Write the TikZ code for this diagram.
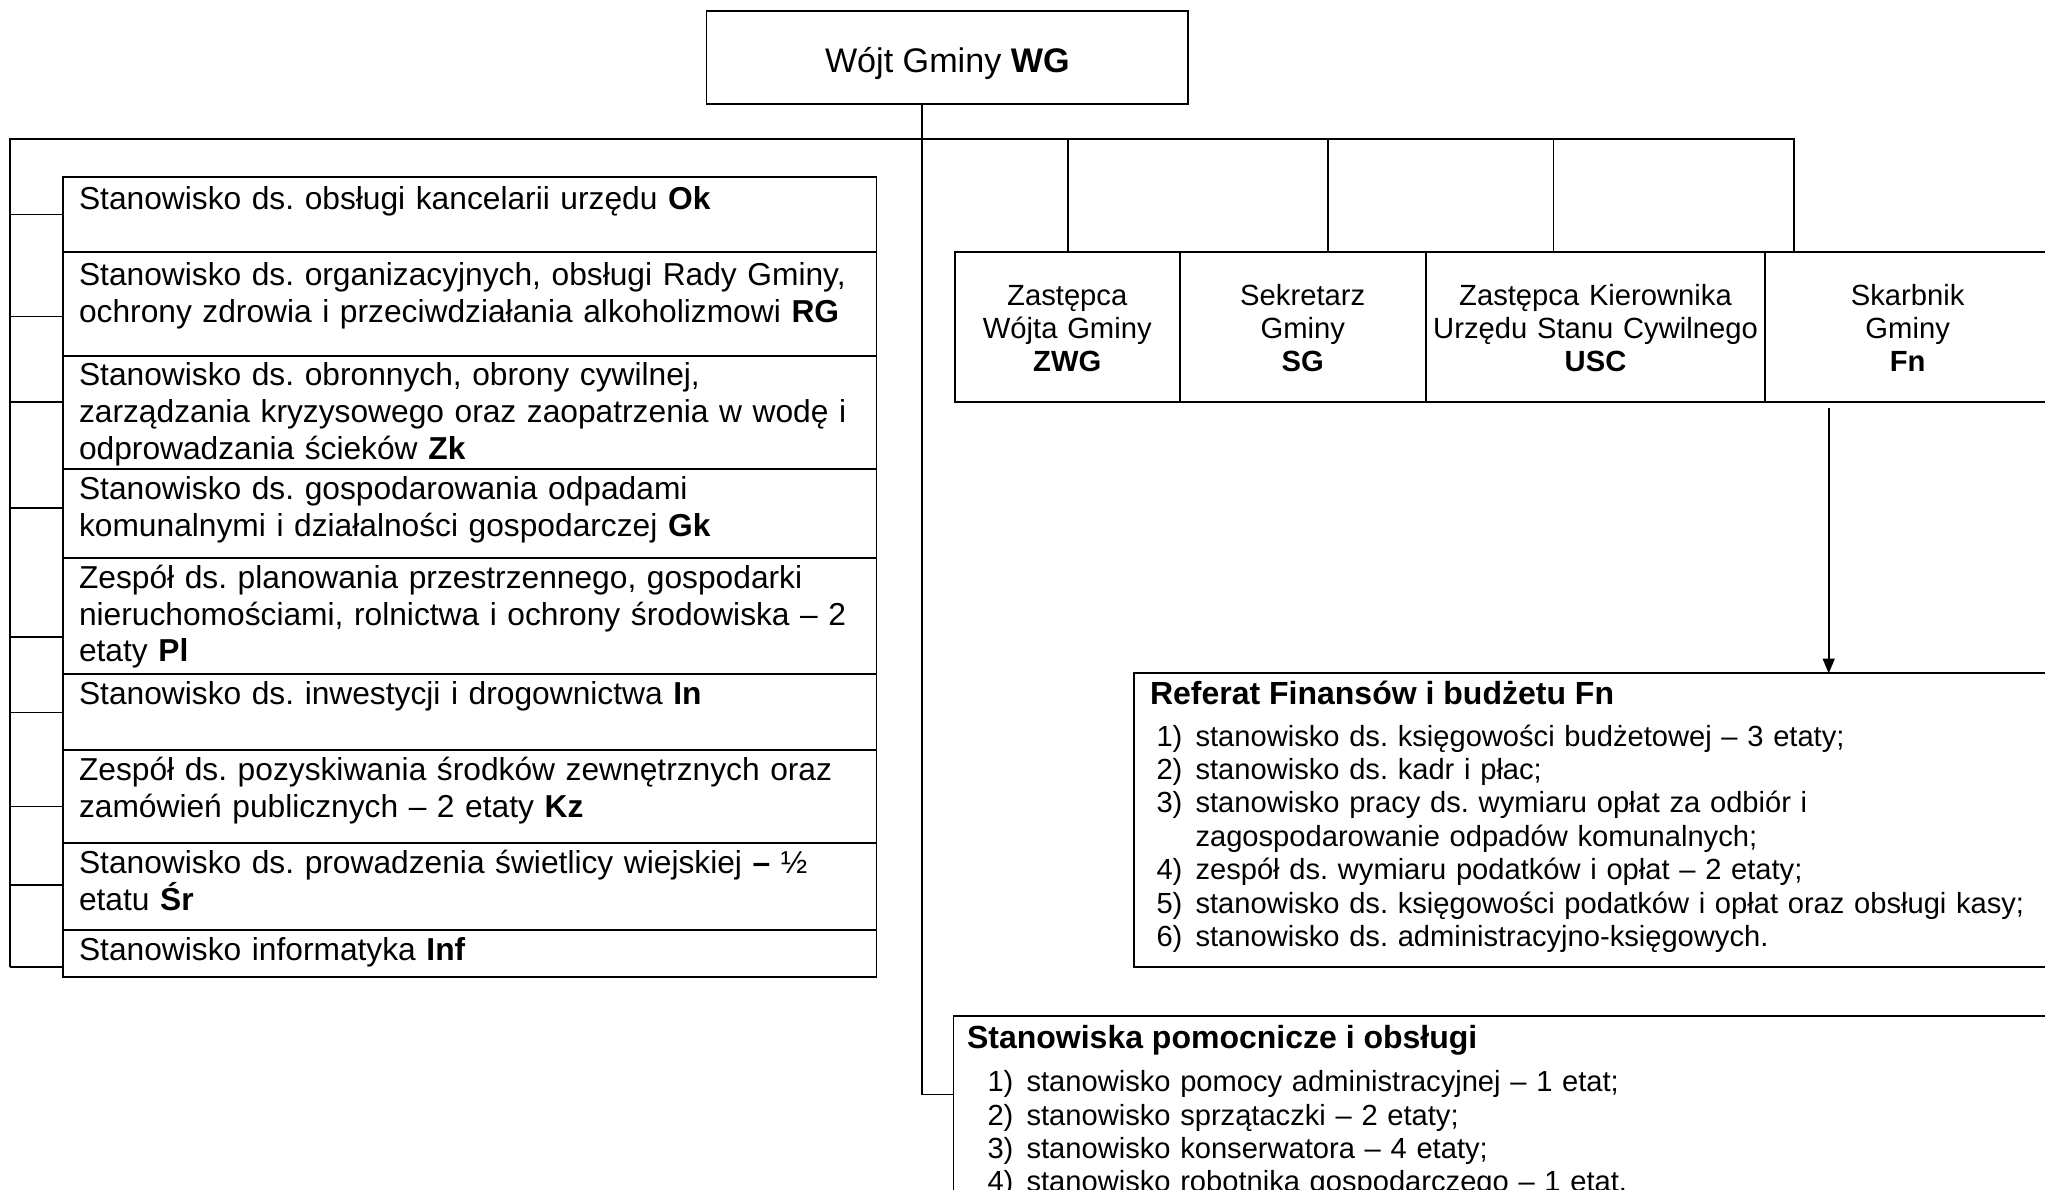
\documentclass[tikz,border=0pt]{standalone}
\usepackage{fontspec}
\setmainfont{Liberation Sans}
\usetikzlibrary{arrows.meta,calc}
\setlength{\lineskiplimit}{-100pt}
\frenchspacing
\newcommand{\pxlen}[1]{#1*0.375pt}
\newlength{\numw}
\setlength{\numw}{14.625pt}
\tikzset{
  box/.style={draw, line width=0.65pt, inner sep=0pt, outer sep=0pt, anchor=north west},
  conn/.style={line width=0.6pt},
  bus/.style={line width=0.8pt},
  listtext/.style={anchor=base west, inner sep=0pt, text width=322.5pt, align=left,
    font=\fontsize{11.9}{13.8}\selectfont},
  rowtext/.style={anchor=base, inner sep=0pt, text width=127.5pt, align=center,
    font=\fontsize{10.95}{12.56}\selectfont},
  headtext/.style={anchor=base west, inner sep=0pt, font=\fontsize{12}{13.8}\selectfont\bfseries},
  itemtext/.style={anchor=base west, inner sep=0pt, text width=337.5pt, align=left,
    font=\fontsize{10.92}{12.53}\selectfont},
}
\newcommand{\num}[1]{\makebox[\numw][l]{#1}}
\begin{document}
\frenchspacing
\begin{tikzpicture}[x=0.375pt,y=-0.375pt]
\useasboundingbox (0,0) rectangle (2045,1189);
\clip (0,0) rectangle (2045,1189);

% top box
\node[box, minimum width=\pxlen{481.5}, minimum height=\pxlen{93}] (wg) at (706.5,10.7) {};
\node[anchor=base, inner sep=0pt, font=\fontsize{12.8}{14.7}\selectfont] (wgT) at (947.3,72) {Wójt Gminy \textbf{WG}};

% left list boxes
\node[box, minimum width=\pxlen{813.5}, minimum height=\pxlen{75.3}]  (nOk)  at (63,177) {};
\node[box, minimum width=\pxlen{813.5}, minimum height=\pxlen{103.4}] (nRG)  at (63,252.3) {};
\node[box, minimum width=\pxlen{813.5}, minimum height=\pxlen{113.6}] (nZk)  at (63,355.7) {};
\node[box, minimum width=\pxlen{813.5}, minimum height=\pxlen{89}]    (nGk)  at (63,469.3) {};
\node[box, minimum width=\pxlen{813.5}, minimum height=\pxlen{115.7}] (nPl)  at (63,558.3) {};
\node[box, minimum width=\pxlen{813.5}, minimum height=\pxlen{76}]    (nIn)  at (63,674) {};
\node[box, minimum width=\pxlen{813.5}, minimum height=\pxlen{93.3}]  (nKz)  at (63,750) {};
\node[box, minimum width=\pxlen{813.5}, minimum height=\pxlen{86.7}]  (nSr)  at (63,843.3) {};
\node[box, minimum width=\pxlen{813.5}, minimum height=\pxlen{46.7}]  (nInf) at (63,930) {};

\node[listtext] (tOk)  at (78.5,209.5) {Stanowisko ds. obsługi kancelarii urzędu \textbf{Ok}};
\node[listtext] (tRG)  at (78.5,285.5) {Stanowisko ds. organizacyjnych, obsługi Rady Gminy,\\ochrony zdrowia i przeciwdziałania alkoholizmowi \textbf{RG}};
\node[listtext] (tZk)  at (78.5,385.7) {Stanowisko ds. obronnych, obrony cywilnej,\\zarządzania kryzysowego oraz zaopatrzenia w wodę i\\odprowadzania ścieków \textbf{Zk}};
\node[listtext] (tGk)  at (78.5,499.3) {Stanowisko ds. gospodarowania odpadami\\komunalnymi i działalności gospodarczej \textbf{Gk}};
\node[listtext] (tPl)  at (78.5,588.3) {Zespół ds. planowania przestrzennego, gospodarki\\nieruchomościami, rolnictwa i ochrony środowiska – 2\\etaty \textbf{Pl}};
\node[listtext] (tIn)  at (78.5,704)   {Stanowisko ds. inwestycji i drogownictwa \textbf{In}};
\node[listtext] (tKz)  at (78.5,780.5) {Zespół ds. pozyskiwania środków zewnętrznych oraz\\zamówień publicznych – 2 etaty \textbf{Kz}};
\node[listtext] (tSr)  at (78.5,873.8) {Stanowisko ds. prowadzenia świetlicy wiejskiej \textbf{–} ½\\etatu \textbf{Śr}};
\node[listtext] (tInf) at (78.5,960.5) {Stanowisko informatyka \textbf{Inf}};

% row of deputies
\node[box, minimum width=\pxlen{224.9}, minimum height=\pxlen{149.4}] (zwg) at (954.8,252.3) {};
\node[box, minimum width=\pxlen{246},   minimum height=\pxlen{149.4}] (sg)  at (1179.7,252.3) {};
\node[box, minimum width=\pxlen{339.6}, minimum height=\pxlen{149.4}] (usc) at (1425.7,252.3) {};
\node[box, minimum width=\pxlen{284.7}, minimum height=\pxlen{149.4}] (fn)  at (1765.3,252.3) {};

\node[rowtext] (tzwg) at (1067.25,305) {Zastępca\\Wójta Gminy\\\textbf{ZWG}};
\node[rowtext] (tsg)  at (1302.7,305)  {Sekretarz\\Gminy\\\textbf{SG}};
\node[rowtext] (tusc) at (1595.5,305)  {Zastępca Kierownika\\Urzędu Stanu Cywilnego\\\textbf{USC}};
\node[rowtext] (tfn)  at (1907.65,305) {Skarbnik\\Gminy\\\textbf{Fn}};

% Referat box
\node[box, minimum width=\pxlen{926}, minimum height=\pxlen{293.4}] (ref) at (1134,673.3) {};
\node[headtext] (refH) at (1149.5,704.5) {Referat Finansów i budżetu Fn};
\node[itemtext] (refL) at (1156,746) {\num{1)}stanowisko ds. księgowości budżetowej – 3 etaty;\\
\num{2)}stanowisko ds. kadr i płac;\\
\num{3)}stanowisko pracy ds. wymiaru opłat za odbiór i\\
\hspace*{\numw}zagospodarowanie odpadów komunalnych;\\
\num{4)}zespół ds. wymiaru podatków i opłat – 2 etaty;\\
\num{5)}stanowisko ds. księgowości podatków i opłat oraz obsługi kasy;\\
\num{6)}stanowisko ds. administracyjno-księgowych.};

% Stanowiska pomocnicze box
\node[box, minimum width=\pxlen{1106.5}, minimum height=\pxlen{200}] (stp) at (953.5,1016) {};
\node[headtext] (stpH) at (966.5,1048.5) {Stanowiska pomocnicze i obsługi};
\node[itemtext, font=\fontsize{10.92}{12.56}\selectfont] (stpL) at (987,1091.5) {\num{1)}stanowisko pomocy administracyjnej – 1 etat;\\
\num{2)}stanowisko sprzątaczki – 2 etaty;\\
\num{3)}stanowisko konserwatora – 4 etaty;\\
\num{4)}stanowisko robotnika gospodarczego – 1 etat.};

% connectors
\coordinate (lsp) at (10,139);
\coordinate (lbot) at (10,967);
\coordinate (busR) at (1793.7,139);
\coordinate (d1) at (1068,139);
\coordinate (d2) at (1328,139);
\coordinate (d3) at (1553.5,139);
\coordinate (spine) at (922,1094.5);
\coordinate (arS) at (1828.7,408);

\draw[bus] (lbot) -- (lsp) -- (busR) -- (busR |- fn.north);
\draw[conn] (d1) -- (d1 |- zwg.north);
\draw[conn] (d2) -- (d2 |- sg.north);
\draw[conn] (d3) -- (d3 |- usc.north);

\foreach \yy/\bx in {214.5/nOk,316.5/nRG,402/nZk,508/nGk,637/nPl,712.5/nIn,806.5/nKz,885/nSr,967/nInf}
  \draw[conn] (\bx.west |- 0,\yy) -- (lsp |- 0,\yy);

\draw[conn] (spine |- wg.south) -- (spine) -- (spine -| stp.west);
\draw[conn, -{Triangle[length=5.5pt, width=4.5pt]}] (arS) -- (arS |- ref.north);
\end{tikzpicture}
\end{document}
